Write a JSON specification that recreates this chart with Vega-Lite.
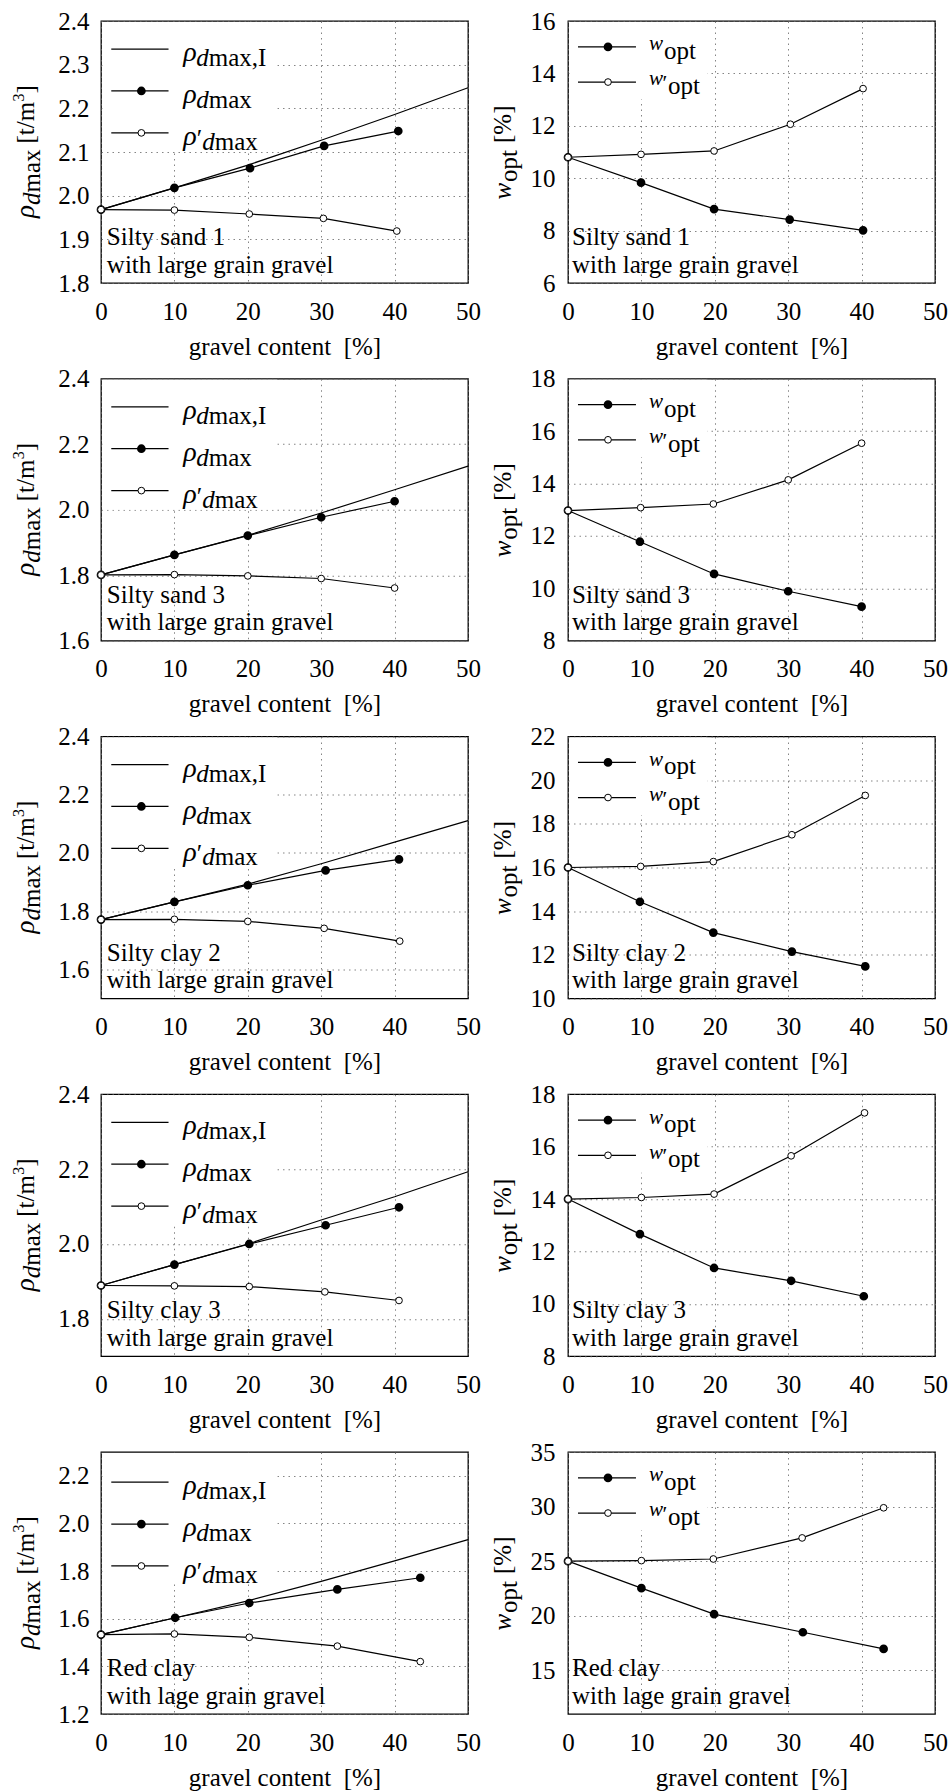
{
"$schema":"https://vega.github.io/schema/vega-lite/v6.json",
"background":"white",
"padding":{"left":10,"top":8,"right":2,"bottom":2},
"columns":2,
"bounds":"flush",
"spacing":{"row":95.75,"column":100},
"config":{
 "font":"Liberation Serif",
 "view":{"stroke":"black","strokeWidth":1.3},
 "axis":{"labelFont":"Liberation Serif","labelFontSize":25,"labelColor":"black","titleFont":"Liberation Serif","titleFontSize":25,"titleFontWeight":"normal","titleColor":"black","ticks":false,"domain":false,"grid":true,"gridColor":"#666","gridDash":[1.5,4],"gridWidth":1,"gridOpacity":0.8,"labelFlush":false,"labelOverlap":false},
 "text":{"font":"Liberation Serif","color":"black"},
 "point":{"opacity":1}
},
"datasets":{"d":[
{"p":"L1","s":"I","x":0,"y":1.968},{"p":"L1","s":"I","x":10,"y":2.018},{"p":"L1","s":"I","x":20,"y":2.07},{"p":"L1","s":"I","x":30,"y":2.127},{"p":"L1","s":"I","x":40,"y":2.186},{"p":"L1","s":"I","x":50,"y":2.247},
{"p":"L1","s":"m","x":0,"y":1.968},{"p":"L1","s":"m","x":10,"y":2.018},{"p":"L1","s":"m","x":20.3,"y":2.063},{"p":"L1","s":"m","x":30.4,"y":2.114},{"p":"L1","s":"m","x":40.5,"y":2.148},
{"p":"L1","s":"p","x":0,"y":1.968},{"p":"L1","s":"p","x":10,"y":1.967},{"p":"L1","s":"p","x":20.2,"y":1.958},{"p":"L1","s":"p","x":30.3,"y":1.948},{"p":"L1","s":"p","x":40.3,"y":1.919},
{"p":"R1","s":"m","x":0,"y":10.8},{"p":"R1","s":"m","x":9.95,"y":9.83},{"p":"R1","s":"m","x":19.9,"y":8.82},{"p":"R1","s":"m","x":30.2,"y":8.42},{"p":"R1","s":"m","x":40.2,"y":8.01},
{"p":"R1","s":"p","x":0,"y":10.8},{"p":"R1","s":"p","x":9.95,"y":10.91},{"p":"R1","s":"p","x":19.9,"y":11.04},{"p":"R1","s":"p","x":30.3,"y":12.06},{"p":"R1","s":"p","x":40.2,"y":13.42},
{"p":"L2","s":"I","x":0,"y":1.801},{"p":"L2","s":"I","x":10,"y":1.862},{"p":"L2","s":"I","x":20,"y":1.922},{"p":"L2","s":"I","x":30,"y":1.99},{"p":"L2","s":"I","x":40,"y":2.061},{"p":"L2","s":"I","x":50,"y":2.133},
{"p":"L2","s":"m","x":0,"y":1.801},{"p":"L2","s":"m","x":10,"y":1.862},{"p":"L2","s":"m","x":20,"y":1.921},{"p":"L2","s":"m","x":30,"y":1.977},{"p":"L2","s":"m","x":40,"y":2.026},
{"p":"L2","s":"p","x":0,"y":1.801},{"p":"L2","s":"p","x":10,"y":1.802},{"p":"L2","s":"p","x":20,"y":1.798},{"p":"L2","s":"p","x":30,"y":1.79},{"p":"L2","s":"p","x":40,"y":1.761},
{"p":"R2","s":"m","x":0,"y":12.97},{"p":"R2","s":"m","x":9.8,"y":11.78},{"p":"R2","s":"m","x":19.9,"y":10.55},{"p":"R2","s":"m","x":30,"y":9.89},{"p":"R2","s":"m","x":40,"y":9.3},
{"p":"R2","s":"p","x":0,"y":12.97},{"p":"R2","s":"p","x":9.9,"y":13.08},{"p":"R2","s":"p","x":19.8,"y":13.22},{"p":"R2","s":"p","x":30,"y":14.14},{"p":"R2","s":"p","x":40,"y":15.54},
{"p":"L3","s":"I","x":0,"y":1.771},{"p":"L3","s":"I","x":10,"y":1.832},{"p":"L3","s":"I","x":20,"y":1.893},{"p":"L3","s":"I","x":30,"y":1.963},{"p":"L3","s":"I","x":40,"y":2.037},{"p":"L3","s":"I","x":50,"y":2.111},
{"p":"L3","s":"m","x":0,"y":1.771},{"p":"L3","s":"m","x":10,"y":1.832},{"p":"L3","s":"m","x":20,"y":1.889},{"p":"L3","s":"m","x":30.6,"y":1.94},{"p":"L3","s":"m","x":40.6,"y":1.978},
{"p":"L3","s":"p","x":0,"y":1.771},{"p":"L3","s":"p","x":10,"y":1.772},{"p":"L3","s":"p","x":20,"y":1.765},{"p":"L3","s":"p","x":30.4,"y":1.741},{"p":"L3","s":"p","x":40.7,"y":1.697},
{"p":"R3","s":"m","x":0,"y":16.0},{"p":"R3","s":"m","x":9.8,"y":14.43},{"p":"R3","s":"m","x":19.8,"y":13.02},{"p":"R3","s":"m","x":30.5,"y":12.15},{"p":"R3","s":"m","x":40.5,"y":11.47},
{"p":"R3","s":"p","x":0,"y":16.0},{"p":"R3","s":"p","x":9.9,"y":16.05},{"p":"R3","s":"p","x":19.8,"y":16.27},{"p":"R3","s":"p","x":30.5,"y":17.5},{"p":"R3","s":"p","x":40.5,"y":19.3},
{"p":"L4","s":"I","x":0,"y":1.889},{"p":"L4","s":"I","x":10,"y":1.945},{"p":"L4","s":"I","x":20,"y":2.0},{"p":"L4","s":"I","x":30,"y":2.064},{"p":"L4","s":"I","x":40,"y":2.126},{"p":"L4","s":"I","x":50,"y":2.193},
{"p":"L4","s":"m","x":0,"y":1.889},{"p":"L4","s":"m","x":10,"y":1.945},{"p":"L4","s":"m","x":20.2,"y":2.0},{"p":"L4","s":"m","x":30.6,"y":2.05},{"p":"L4","s":"m","x":40.6,"y":2.098},
{"p":"L4","s":"p","x":0,"y":1.889},{"p":"L4","s":"p","x":10,"y":1.888},{"p":"L4","s":"p","x":20.2,"y":1.886},{"p":"L4","s":"p","x":30.5,"y":1.872},{"p":"L4","s":"p","x":40.6,"y":1.849},
{"p":"R4","s":"m","x":0,"y":14.0},{"p":"R4","s":"m","x":9.8,"y":12.66},{"p":"R4","s":"m","x":19.9,"y":11.37},{"p":"R4","s":"m","x":30.4,"y":10.88},{"p":"R4","s":"m","x":40.3,"y":10.29},
{"p":"R4","s":"p","x":0,"y":14.0},{"p":"R4","s":"p","x":10,"y":14.06},{"p":"R4","s":"p","x":19.9,"y":14.19},{"p":"R4","s":"p","x":30.4,"y":15.65},{"p":"R4","s":"p","x":40.4,"y":17.29},
{"p":"L5","s":"I","x":0,"y":1.533},{"p":"L5","s":"I","x":10,"y":1.603},{"p":"L5","s":"I","x":20,"y":1.675},{"p":"L5","s":"I","x":30,"y":1.757},{"p":"L5","s":"I","x":40,"y":1.843},{"p":"L5","s":"I","x":50,"y":1.932},
{"p":"L5","s":"m","x":0,"y":1.533},{"p":"L5","s":"m","x":10.1,"y":1.604},{"p":"L5","s":"m","x":20.2,"y":1.666},{"p":"L5","s":"m","x":32.2,"y":1.723},{"p":"L5","s":"m","x":43.5,"y":1.772},
{"p":"L5","s":"p","x":0,"y":1.533},{"p":"L5","s":"p","x":10,"y":1.536},{"p":"L5","s":"p","x":20.2,"y":1.522},{"p":"L5","s":"p","x":32.2,"y":1.485},{"p":"L5","s":"p","x":43.5,"y":1.42},
{"p":"R5","s":"m","x":0,"y":25.0},{"p":"R5","s":"m","x":10,"y":22.53},{"p":"R5","s":"m","x":19.9,"y":20.15},{"p":"R5","s":"m","x":32,"y":18.49},{"p":"R5","s":"m","x":43,"y":16.96},
{"p":"R5","s":"p","x":0,"y":25.0},{"p":"R5","s":"p","x":10,"y":25.05},{"p":"R5","s":"p","x":19.8,"y":25.2},{"p":"R5","s":"p","x":31.9,"y":27.13},{"p":"R5","s":"p","x":43,"y":29.89}
]},
"concat":[
{"width":367,"height":262,"resolve":{"scale":{"y":"independent"}},"layer":[
 {"data":{"values":[{}]},"mark":{"type":"rect","fill":"white"},"encoding":{"x":{"datum":0.2,"type":"quantitative","scale":{"domain":[0,50],"nice":false}},"x2":{"datum":24},"y":{"datum":0.5,"type":"quantitative","scale":{"domain":[0,1],"nice":false},"axis":null},"y2":{"datum":0.996}}},
 {"data":{"name":"d"},"transform":[{"filter":"datum.p=='L1'"}],"mark":{"type":"line","color":"black","strokeWidth":1.2},"encoding":{"x":{"field":"x","type":"quantitative","scale":{"domain":[0,50],"nice":false},"axis":{"values":[0,10,20,30,40,50],"title":"gravel content\u00a0\u00a0[%]","labelPadding":16,"titlePadding":10,"grid":true}},"y":{"field":"y","type":"quantitative","scale":{"domain":[1.8,2.4],"nice":false,"zero":false},"axis":{"values":[1.8,1.9,2.0,2.1,2.2,2.3,2.4],"format":".1f","title":null,"labelPadding":12,"grid":true}},"detail":{"field":"s"}}},
 {"data":{"name":"d"},"transform":[{"filter":"datum.p=='L1' && datum.s=='m'"}],"mark":{"type":"point","shape":"circle","filled":true,"fill":"black","stroke":"black","size":45,"opacity":1},"encoding":{"x":{"field":"x","type":"quantitative","scale":{"domain":[0,50],"nice":false}},"y":{"field":"y","type":"quantitative","scale":{"domain":[1.8,2.4],"nice":false,"zero":false},"axis":null}}},
 {"data":{"name":"d"},"transform":[{"filter":"datum.p=='L1' && datum.s=='p'"}],"mark":{"type":"point","shape":"circle","filled":true,"fill":"white","stroke":"black","strokeWidth":1,"size":45,"opacity":1},"encoding":{"x":{"field":"x","type":"quantitative","scale":{"domain":[0,50],"nice":false}},"y":{"field":"y","type":"quantitative","scale":{"domain":[1.8,2.4],"nice":false,"zero":false},"axis":null}}},
 {"data":{"values":[{}]},"mark":{"type":"rule","color":"black","strokeWidth":1.2},"encoding":{"x":{"datum":1.4,"type":"quantitative","scale":{"domain":[0,50],"nice":false}},"x2":{"datum":9.2},"y":{"datum":0.893,"type":"quantitative","scale":{"domain":[0,1],"nice":false},"axis":null}}},
 {"data":{"values":[{}]},"mark":{"type":"rule","color":"black","strokeWidth":1.2},"encoding":{"x":{"datum":1.4,"type":"quantitative","scale":{"domain":[0,50],"nice":false}},"x2":{"datum":9.2},"y":{"datum":0.733,"type":"quantitative","scale":{"domain":[0,1],"nice":false},"axis":null}}},
 {"data":{"values":[{}]},"mark":{"type":"rule","color":"black","strokeWidth":1.2},"encoding":{"x":{"datum":1.4,"type":"quantitative","scale":{"domain":[0,50],"nice":false}},"x2":{"datum":9.2},"y":{"datum":0.573,"type":"quantitative","scale":{"domain":[0,1],"nice":false},"axis":null}}},
 {"data":{"values":[{}]},"mark":{"type":"point","shape":"circle","filled":true,"fill":"black","stroke":"black","size":45,"opacity":1},"encoding":{"x":{"datum":5.5,"type":"quantitative","scale":{"domain":[0,50],"nice":false}},"y":{"datum":0.733,"type":"quantitative","scale":{"domain":[0,1],"nice":false},"axis":null}}},
 {"data":{"values":[{}]},"mark":{"type":"point","shape":"circle","filled":true,"fill":"white","stroke":"black","strokeWidth":1,"size":45,"opacity":1},"encoding":{"x":{"datum":5.5,"type":"quantitative","scale":{"domain":[0,50],"nice":false}},"y":{"datum":0.573,"type":"quantitative","scale":{"domain":[0,1],"nice":false},"axis":null}}},
 {"data":{"values":[{}]},"mark":{"type":"text","text":["ρ","ρ","ρ"],"fontStyle":"italic","fontSize":28,"lineHeight":42,"align":"left","baseline":"alphabetic","dy":12},"encoding":{"x":{"datum":11.2,"type":"quantitative","scale":{"domain":[0,50],"nice":false}},"y":{"datum":0.893,"type":"quantitative","scale":{"domain":[0,1],"nice":false},"axis":null}}},
 {"data":{"values":[{}]},"mark":{"type":"text","text":["d","d"],"fontStyle":"italic","fontSize":25,"lineHeight":42,"align":"left","baseline":"alphabetic","dx":13,"dy":17},"encoding":{"x":{"datum":11.2,"type":"quantitative","scale":{"domain":[0,50],"nice":false}},"y":{"datum":0.893,"type":"quantitative","scale":{"domain":[0,1],"nice":false},"axis":null}}},
 {"data":{"values":[{}]},"mark":{"type":"text","text":["max,I","max"],"fontSize":25,"lineHeight":42,"align":"left","baseline":"alphabetic","dx":25.5,"dy":17},"encoding":{"x":{"datum":11.2,"type":"quantitative","scale":{"domain":[0,50],"nice":false}},"y":{"datum":0.893,"type":"quantitative","scale":{"domain":[0,1],"nice":false},"axis":null}}},
 {"data":{"values":[{}]},"mark":{"type":"text","text":"′","fontSize":25,"align":"left","baseline":"alphabetic","dx":13.5,"dy":14},"encoding":{"x":{"datum":11.2,"type":"quantitative","scale":{"domain":[0,50],"nice":false}},"y":{"datum":0.573,"type":"quantitative","scale":{"domain":[0,1],"nice":false},"axis":null}}},
 {"data":{"values":[{}]},"mark":{"type":"text","text":"d","fontStyle":"italic","fontSize":25,"align":"left","baseline":"alphabetic","dx":19,"dy":17},"encoding":{"x":{"datum":11.2,"type":"quantitative","scale":{"domain":[0,50],"nice":false}},"y":{"datum":0.573,"type":"quantitative","scale":{"domain":[0,1],"nice":false},"axis":null}}},
 {"data":{"values":[{}]},"mark":{"type":"text","text":"max","fontSize":25,"align":"left","baseline":"alphabetic","dx":31.5,"dy":17},"encoding":{"x":{"datum":11.2,"type":"quantitative","scale":{"domain":[0,50],"nice":false}},"y":{"datum":0.573,"type":"quantitative","scale":{"domain":[0,1],"nice":false},"axis":null}}},
 {"data":{"values":[{}]},"mark":{"type":"text","text":"ρ","angle":270,"fontStyle":"italic","fontSize":27,"align":"left","baseline":"alphabetic","dx":-66,"dy":0},"encoding":{"x":{"datum":-9.13,"type":"quantitative","scale":{"domain":[0,50],"nice":false}},"y":{"datum":0.5,"type":"quantitative","scale":{"domain":[0,1],"nice":false},"axis":null}}},
 {"data":{"values":[{}]},"mark":{"type":"text","text":"d","angle":270,"fontStyle":"italic","fontSize":25,"align":"left","baseline":"alphabetic","dx":-53,"dy":6},"encoding":{"x":{"datum":-9.13,"type":"quantitative","scale":{"domain":[0,50],"nice":false}},"y":{"datum":0.5,"type":"quantitative","scale":{"domain":[0,1],"nice":false},"axis":null}}},
 {"data":{"values":[{}]},"mark":{"type":"text","text":"max","angle":270,"fontSize":25,"align":"left","baseline":"alphabetic","dx":-40.5,"dy":6},"encoding":{"x":{"datum":-9.13,"type":"quantitative","scale":{"domain":[0,50],"nice":false}},"y":{"datum":0.5,"type":"quantitative","scale":{"domain":[0,1],"nice":false},"axis":null}}},
 {"data":{"values":[{}]},"mark":{"type":"text","text":"[t/m","angle":270,"fontSize":25,"align":"left","baseline":"alphabetic","dx":8.5,"dy":0},"encoding":{"x":{"datum":-9.13,"type":"quantitative","scale":{"domain":[0,50],"nice":false}},"y":{"datum":0.5,"type":"quantitative","scale":{"domain":[0,1],"nice":false},"axis":null}}},
 {"data":{"values":[{}]},"mark":{"type":"text","text":"3","angle":270,"fontSize":16,"align":"left","baseline":"alphabetic","dx":50.5,"dy":-10},"encoding":{"x":{"datum":-9.13,"type":"quantitative","scale":{"domain":[0,50],"nice":false}},"y":{"datum":0.5,"type":"quantitative","scale":{"domain":[0,1],"nice":false},"axis":null}}},
 {"data":{"values":[{}]},"mark":{"type":"text","text":"]","angle":270,"fontSize":25,"align":"left","baseline":"alphabetic","dx":58.5,"dy":0},"encoding":{"x":{"datum":-9.13,"type":"quantitative","scale":{"domain":[0,50],"nice":false}},"y":{"datum":0.5,"type":"quantitative","scale":{"domain":[0,1],"nice":false},"axis":null}}},
 {"data":{"values":[{}]},"mark":{"type":"text","text":["Silty sand 1","with large grain gravel"],"fontSize":25,"lineHeight":27.7,"align":"left","baseline":"alphabetic"},"encoding":{"x":{"datum":0.8,"type":"quantitative","scale":{"domain":[0,50],"nice":false}},"y":{"datum":0.145,"type":"quantitative","scale":{"domain":[0,1],"nice":false},"axis":null}}}
]},
{"width":367,"height":262,"resolve":{"scale":{"y":"independent"}},"layer":[
 {"data":{"values":[{}]},"mark":{"type":"rect","fill":"white"},"encoding":{"x":{"datum":0.2,"type":"quantitative","scale":{"domain":[0,50],"nice":false}},"x2":{"datum":19},"y":{"datum":0.7,"type":"quantitative","scale":{"domain":[0,1],"nice":false},"axis":null},"y2":{"datum":0.996}}},
 {"data":{"name":"d"},"transform":[{"filter":"datum.p=='R1'"}],"mark":{"type":"line","color":"black","strokeWidth":1.2},"encoding":{"x":{"field":"x","type":"quantitative","scale":{"domain":[0,50],"nice":false},"axis":{"values":[0,10,20,30,40,50],"title":"gravel content\u00a0\u00a0[%]","labelPadding":16,"titlePadding":10,"grid":true}},"y":{"field":"y","type":"quantitative","scale":{"domain":[6,16],"nice":false,"zero":false},"axis":{"values":[6,8,10,12,14,16],"format":"d","title":null,"labelPadding":13,"grid":true}},"detail":{"field":"s"}}},
 {"data":{"name":"d"},"transform":[{"filter":"datum.p=='R1' && datum.s=='m'"}],"mark":{"type":"point","shape":"circle","filled":true,"fill":"black","stroke":"black","size":45,"opacity":1},"encoding":{"x":{"field":"x","type":"quantitative","scale":{"domain":[0,50],"nice":false}},"y":{"field":"y","type":"quantitative","scale":{"domain":[6,16],"nice":false,"zero":false},"axis":null}}},
 {"data":{"name":"d"},"transform":[{"filter":"datum.p=='R1' && datum.s=='p'"}],"mark":{"type":"point","shape":"circle","filled":true,"fill":"white","stroke":"black","strokeWidth":1,"size":45,"opacity":1},"encoding":{"x":{"field":"x","type":"quantitative","scale":{"domain":[0,50],"nice":false}},"y":{"field":"y","type":"quantitative","scale":{"domain":[6,16],"nice":false,"zero":false},"axis":null}}},
 {"data":{"values":[{}]},"mark":{"type":"rule","color":"black","strokeWidth":1.2},"encoding":{"x":{"datum":1.36,"type":"quantitative","scale":{"domain":[0,50],"nice":false}},"x2":{"datum":9.26},"y":{"datum":0.901,"type":"quantitative","scale":{"domain":[0,1],"nice":false},"axis":null}}},
 {"data":{"values":[{}]},"mark":{"type":"rule","color":"black","strokeWidth":1.2},"encoding":{"x":{"datum":1.36,"type":"quantitative","scale":{"domain":[0,50],"nice":false}},"x2":{"datum":9.26},"y":{"datum":0.767,"type":"quantitative","scale":{"domain":[0,1],"nice":false},"axis":null}}},
 {"data":{"values":[{}]},"mark":{"type":"point","shape":"circle","filled":true,"fill":"black","stroke":"black","size":45,"opacity":1},"encoding":{"x":{"datum":5.45,"type":"quantitative","scale":{"domain":[0,50],"nice":false}},"y":{"datum":0.901,"type":"quantitative","scale":{"domain":[0,1],"nice":false},"axis":null}}},
 {"data":{"values":[{}]},"mark":{"type":"point","shape":"circle","filled":true,"fill":"white","stroke":"black","strokeWidth":1,"size":45,"opacity":1},"encoding":{"x":{"datum":5.45,"type":"quantitative","scale":{"domain":[0,50],"nice":false}},"y":{"datum":0.767,"type":"quantitative","scale":{"domain":[0,1],"nice":false},"axis":null}}},
 {"data":{"values":[{}]},"mark":{"type":"text","text":["w","w"],"fontStyle":"italic","fontSize":21,"lineHeight":35,"align":"left","baseline":"alphabetic","dy":3.5},"encoding":{"x":{"datum":11.04,"type":"quantitative","scale":{"domain":[0,50],"nice":false}},"y":{"datum":0.901,"type":"quantitative","scale":{"domain":[0,1],"nice":false},"axis":null}}},
 {"data":{"values":[{}]},"mark":{"type":"text","text":"opt","fontSize":25,"align":"left","baseline":"alphabetic","dx":15,"dy":12},"encoding":{"x":{"datum":11.04,"type":"quantitative","scale":{"domain":[0,50],"nice":false}},"y":{"datum":0.901,"type":"quantitative","scale":{"domain":[0,1],"nice":false},"axis":null}}},
 {"data":{"values":[{}]},"mark":{"type":"text","text":"′","fontSize":22,"align":"left","baseline":"alphabetic","dx":13.5,"dy":8},"encoding":{"x":{"datum":11.04,"type":"quantitative","scale":{"domain":[0,50],"nice":false}},"y":{"datum":0.767,"type":"quantitative","scale":{"domain":[0,1],"nice":false},"axis":null}}},
 {"data":{"values":[{}]},"mark":{"type":"text","text":"opt","fontSize":25,"align":"left","baseline":"alphabetic","dx":19,"dy":12},"encoding":{"x":{"datum":11.04,"type":"quantitative","scale":{"domain":[0,50],"nice":false}},"y":{"datum":0.767,"type":"quantitative","scale":{"domain":[0,1],"nice":false},"axis":null}}},
 {"data":{"values":[{}]},"mark":{"type":"text","text":"w","angle":270,"fontStyle":"italic","fontSize":25,"align":"left","baseline":"alphabetic","dx":-47.5,"dy":0},"encoding":{"x":{"datum":-7.7,"type":"quantitative","scale":{"domain":[0,50],"nice":false}},"y":{"datum":0.5,"type":"quantitative","scale":{"domain":[0,1],"nice":false},"axis":null}}},
 {"data":{"values":[{}]},"mark":{"type":"text","text":"opt","angle":270,"fontSize":25,"align":"left","baseline":"alphabetic","dx":-30,"dy":6},"encoding":{"x":{"datum":-7.7,"type":"quantitative","scale":{"domain":[0,50],"nice":false}},"y":{"datum":0.5,"type":"quantitative","scale":{"domain":[0,1],"nice":false},"axis":null}}},
 {"data":{"values":[{}]},"mark":{"type":"text","text":"[%]","angle":270,"fontSize":25,"align":"left","baseline":"alphabetic","dx":9,"dy":0},"encoding":{"x":{"datum":-7.7,"type":"quantitative","scale":{"domain":[0,50],"nice":false}},"y":{"datum":0.5,"type":"quantitative","scale":{"domain":[0,1],"nice":false},"axis":null}}},
 {"data":{"values":[{}]},"mark":{"type":"text","text":["Silty sand 1","with large grain gravel"],"fontSize":25,"lineHeight":27.7,"align":"left","baseline":"alphabetic"},"encoding":{"x":{"datum":0.55,"type":"quantitative","scale":{"domain":[0,50],"nice":false}},"y":{"datum":0.145,"type":"quantitative","scale":{"domain":[0,1],"nice":false},"axis":null}}}
]},
{"width":367,"height":262,"resolve":{"scale":{"y":"independent"}},"layer":[
 {"data":{"values":[{}]},"mark":{"type":"rect","fill":"white"},"encoding":{"x":{"datum":0.2,"type":"quantitative","scale":{"domain":[0,50],"nice":false}},"x2":{"datum":24},"y":{"datum":0.5,"type":"quantitative","scale":{"domain":[0,1],"nice":false},"axis":null},"y2":{"datum":0.996}}},
 {"data":{"name":"d"},"transform":[{"filter":"datum.p=='L2'"}],"mark":{"type":"line","color":"black","strokeWidth":1.2},"encoding":{"x":{"field":"x","type":"quantitative","scale":{"domain":[0,50],"nice":false},"axis":{"values":[0,10,20,30,40,50],"title":"gravel content\u00a0\u00a0[%]","labelPadding":16,"titlePadding":10,"grid":true}},"y":{"field":"y","type":"quantitative","scale":{"domain":[1.6,2.4],"nice":false,"zero":false},"axis":{"values":[1.6,1.8,2.0,2.2,2.4],"format":".1f","title":null,"labelPadding":12,"grid":true}},"detail":{"field":"s"}}},
 {"data":{"name":"d"},"transform":[{"filter":"datum.p=='L2' && datum.s=='m'"}],"mark":{"type":"point","shape":"circle","filled":true,"fill":"black","stroke":"black","size":45,"opacity":1},"encoding":{"x":{"field":"x","type":"quantitative","scale":{"domain":[0,50],"nice":false}},"y":{"field":"y","type":"quantitative","scale":{"domain":[1.6,2.4],"nice":false,"zero":false},"axis":null}}},
 {"data":{"name":"d"},"transform":[{"filter":"datum.p=='L2' && datum.s=='p'"}],"mark":{"type":"point","shape":"circle","filled":true,"fill":"white","stroke":"black","strokeWidth":1,"size":45,"opacity":1},"encoding":{"x":{"field":"x","type":"quantitative","scale":{"domain":[0,50],"nice":false}},"y":{"field":"y","type":"quantitative","scale":{"domain":[1.6,2.4],"nice":false,"zero":false},"axis":null}}},
 {"data":{"values":[{}]},"mark":{"type":"rule","color":"black","strokeWidth":1.2},"encoding":{"x":{"datum":1.4,"type":"quantitative","scale":{"domain":[0,50],"nice":false}},"x2":{"datum":9.2},"y":{"datum":0.893,"type":"quantitative","scale":{"domain":[0,1],"nice":false},"axis":null}}},
 {"data":{"values":[{}]},"mark":{"type":"rule","color":"black","strokeWidth":1.2},"encoding":{"x":{"datum":1.4,"type":"quantitative","scale":{"domain":[0,50],"nice":false}},"x2":{"datum":9.2},"y":{"datum":0.733,"type":"quantitative","scale":{"domain":[0,1],"nice":false},"axis":null}}},
 {"data":{"values":[{}]},"mark":{"type":"rule","color":"black","strokeWidth":1.2},"encoding":{"x":{"datum":1.4,"type":"quantitative","scale":{"domain":[0,50],"nice":false}},"x2":{"datum":9.2},"y":{"datum":0.573,"type":"quantitative","scale":{"domain":[0,1],"nice":false},"axis":null}}},
 {"data":{"values":[{}]},"mark":{"type":"point","shape":"circle","filled":true,"fill":"black","stroke":"black","size":45,"opacity":1},"encoding":{"x":{"datum":5.5,"type":"quantitative","scale":{"domain":[0,50],"nice":false}},"y":{"datum":0.733,"type":"quantitative","scale":{"domain":[0,1],"nice":false},"axis":null}}},
 {"data":{"values":[{}]},"mark":{"type":"point","shape":"circle","filled":true,"fill":"white","stroke":"black","strokeWidth":1,"size":45,"opacity":1},"encoding":{"x":{"datum":5.5,"type":"quantitative","scale":{"domain":[0,50],"nice":false}},"y":{"datum":0.573,"type":"quantitative","scale":{"domain":[0,1],"nice":false},"axis":null}}},
 {"data":{"values":[{}]},"mark":{"type":"text","text":["ρ","ρ","ρ"],"fontStyle":"italic","fontSize":28,"lineHeight":42,"align":"left","baseline":"alphabetic","dy":12},"encoding":{"x":{"datum":11.2,"type":"quantitative","scale":{"domain":[0,50],"nice":false}},"y":{"datum":0.893,"type":"quantitative","scale":{"domain":[0,1],"nice":false},"axis":null}}},
 {"data":{"values":[{}]},"mark":{"type":"text","text":["d","d"],"fontStyle":"italic","fontSize":25,"lineHeight":42,"align":"left","baseline":"alphabetic","dx":13,"dy":17},"encoding":{"x":{"datum":11.2,"type":"quantitative","scale":{"domain":[0,50],"nice":false}},"y":{"datum":0.893,"type":"quantitative","scale":{"domain":[0,1],"nice":false},"axis":null}}},
 {"data":{"values":[{}]},"mark":{"type":"text","text":["max,I","max"],"fontSize":25,"lineHeight":42,"align":"left","baseline":"alphabetic","dx":25.5,"dy":17},"encoding":{"x":{"datum":11.2,"type":"quantitative","scale":{"domain":[0,50],"nice":false}},"y":{"datum":0.893,"type":"quantitative","scale":{"domain":[0,1],"nice":false},"axis":null}}},
 {"data":{"values":[{}]},"mark":{"type":"text","text":"′","fontSize":25,"align":"left","baseline":"alphabetic","dx":13.5,"dy":14},"encoding":{"x":{"datum":11.2,"type":"quantitative","scale":{"domain":[0,50],"nice":false}},"y":{"datum":0.573,"type":"quantitative","scale":{"domain":[0,1],"nice":false},"axis":null}}},
 {"data":{"values":[{}]},"mark":{"type":"text","text":"d","fontStyle":"italic","fontSize":25,"align":"left","baseline":"alphabetic","dx":19,"dy":17},"encoding":{"x":{"datum":11.2,"type":"quantitative","scale":{"domain":[0,50],"nice":false}},"y":{"datum":0.573,"type":"quantitative","scale":{"domain":[0,1],"nice":false},"axis":null}}},
 {"data":{"values":[{}]},"mark":{"type":"text","text":"max","fontSize":25,"align":"left","baseline":"alphabetic","dx":31.5,"dy":17},"encoding":{"x":{"datum":11.2,"type":"quantitative","scale":{"domain":[0,50],"nice":false}},"y":{"datum":0.573,"type":"quantitative","scale":{"domain":[0,1],"nice":false},"axis":null}}},
 {"data":{"values":[{}]},"mark":{"type":"text","text":"ρ","angle":270,"fontStyle":"italic","fontSize":27,"align":"left","baseline":"alphabetic","dx":-66,"dy":0},"encoding":{"x":{"datum":-9.13,"type":"quantitative","scale":{"domain":[0,50],"nice":false}},"y":{"datum":0.5,"type":"quantitative","scale":{"domain":[0,1],"nice":false},"axis":null}}},
 {"data":{"values":[{}]},"mark":{"type":"text","text":"d","angle":270,"fontStyle":"italic","fontSize":25,"align":"left","baseline":"alphabetic","dx":-53,"dy":6},"encoding":{"x":{"datum":-9.13,"type":"quantitative","scale":{"domain":[0,50],"nice":false}},"y":{"datum":0.5,"type":"quantitative","scale":{"domain":[0,1],"nice":false},"axis":null}}},
 {"data":{"values":[{}]},"mark":{"type":"text","text":"max","angle":270,"fontSize":25,"align":"left","baseline":"alphabetic","dx":-40.5,"dy":6},"encoding":{"x":{"datum":-9.13,"type":"quantitative","scale":{"domain":[0,50],"nice":false}},"y":{"datum":0.5,"type":"quantitative","scale":{"domain":[0,1],"nice":false},"axis":null}}},
 {"data":{"values":[{}]},"mark":{"type":"text","text":"[t/m","angle":270,"fontSize":25,"align":"left","baseline":"alphabetic","dx":8.5,"dy":0},"encoding":{"x":{"datum":-9.13,"type":"quantitative","scale":{"domain":[0,50],"nice":false}},"y":{"datum":0.5,"type":"quantitative","scale":{"domain":[0,1],"nice":false},"axis":null}}},
 {"data":{"values":[{}]},"mark":{"type":"text","text":"3","angle":270,"fontSize":16,"align":"left","baseline":"alphabetic","dx":50.5,"dy":-10},"encoding":{"x":{"datum":-9.13,"type":"quantitative","scale":{"domain":[0,50],"nice":false}},"y":{"datum":0.5,"type":"quantitative","scale":{"domain":[0,1],"nice":false},"axis":null}}},
 {"data":{"values":[{}]},"mark":{"type":"text","text":"]","angle":270,"fontSize":25,"align":"left","baseline":"alphabetic","dx":58.5,"dy":0},"encoding":{"x":{"datum":-9.13,"type":"quantitative","scale":{"domain":[0,50],"nice":false}},"y":{"datum":0.5,"type":"quantitative","scale":{"domain":[0,1],"nice":false},"axis":null}}},
 {"data":{"values":[{}]},"mark":{"type":"text","text":["Silty sand 3","with large grain gravel"],"fontSize":25,"lineHeight":27.7,"align":"left","baseline":"alphabetic"},"encoding":{"x":{"datum":0.8,"type":"quantitative","scale":{"domain":[0,50],"nice":false}},"y":{"datum":0.145,"type":"quantitative","scale":{"domain":[0,1],"nice":false},"axis":null}}}
]},
{"width":367,"height":262,"resolve":{"scale":{"y":"independent"}},"layer":[
 {"data":{"values":[{}]},"mark":{"type":"rect","fill":"white"},"encoding":{"x":{"datum":0.2,"type":"quantitative","scale":{"domain":[0,50],"nice":false}},"x2":{"datum":19},"y":{"datum":0.7,"type":"quantitative","scale":{"domain":[0,1],"nice":false},"axis":null},"y2":{"datum":0.996}}},
 {"data":{"name":"d"},"transform":[{"filter":"datum.p=='R2'"}],"mark":{"type":"line","color":"black","strokeWidth":1.2},"encoding":{"x":{"field":"x","type":"quantitative","scale":{"domain":[0,50],"nice":false},"axis":{"values":[0,10,20,30,40,50],"title":"gravel content\u00a0\u00a0[%]","labelPadding":16,"titlePadding":10,"grid":true}},"y":{"field":"y","type":"quantitative","scale":{"domain":[8,18],"nice":false,"zero":false},"axis":{"values":[8,10,12,14,16,18],"format":"d","title":null,"labelPadding":13,"grid":true}},"detail":{"field":"s"}}},
 {"data":{"name":"d"},"transform":[{"filter":"datum.p=='R2' && datum.s=='m'"}],"mark":{"type":"point","shape":"circle","filled":true,"fill":"black","stroke":"black","size":45,"opacity":1},"encoding":{"x":{"field":"x","type":"quantitative","scale":{"domain":[0,50],"nice":false}},"y":{"field":"y","type":"quantitative","scale":{"domain":[8,18],"nice":false,"zero":false},"axis":null}}},
 {"data":{"name":"d"},"transform":[{"filter":"datum.p=='R2' && datum.s=='p'"}],"mark":{"type":"point","shape":"circle","filled":true,"fill":"white","stroke":"black","strokeWidth":1,"size":45,"opacity":1},"encoding":{"x":{"field":"x","type":"quantitative","scale":{"domain":[0,50],"nice":false}},"y":{"field":"y","type":"quantitative","scale":{"domain":[8,18],"nice":false,"zero":false},"axis":null}}},
 {"data":{"values":[{}]},"mark":{"type":"rule","color":"black","strokeWidth":1.2},"encoding":{"x":{"datum":1.36,"type":"quantitative","scale":{"domain":[0,50],"nice":false}},"x2":{"datum":9.26},"y":{"datum":0.901,"type":"quantitative","scale":{"domain":[0,1],"nice":false},"axis":null}}},
 {"data":{"values":[{}]},"mark":{"type":"rule","color":"black","strokeWidth":1.2},"encoding":{"x":{"datum":1.36,"type":"quantitative","scale":{"domain":[0,50],"nice":false}},"x2":{"datum":9.26},"y":{"datum":0.767,"type":"quantitative","scale":{"domain":[0,1],"nice":false},"axis":null}}},
 {"data":{"values":[{}]},"mark":{"type":"point","shape":"circle","filled":true,"fill":"black","stroke":"black","size":45,"opacity":1},"encoding":{"x":{"datum":5.45,"type":"quantitative","scale":{"domain":[0,50],"nice":false}},"y":{"datum":0.901,"type":"quantitative","scale":{"domain":[0,1],"nice":false},"axis":null}}},
 {"data":{"values":[{}]},"mark":{"type":"point","shape":"circle","filled":true,"fill":"white","stroke":"black","strokeWidth":1,"size":45,"opacity":1},"encoding":{"x":{"datum":5.45,"type":"quantitative","scale":{"domain":[0,50],"nice":false}},"y":{"datum":0.767,"type":"quantitative","scale":{"domain":[0,1],"nice":false},"axis":null}}},
 {"data":{"values":[{}]},"mark":{"type":"text","text":["w","w"],"fontStyle":"italic","fontSize":21,"lineHeight":35,"align":"left","baseline":"alphabetic","dy":3.5},"encoding":{"x":{"datum":11.04,"type":"quantitative","scale":{"domain":[0,50],"nice":false}},"y":{"datum":0.901,"type":"quantitative","scale":{"domain":[0,1],"nice":false},"axis":null}}},
 {"data":{"values":[{}]},"mark":{"type":"text","text":"opt","fontSize":25,"align":"left","baseline":"alphabetic","dx":15,"dy":12},"encoding":{"x":{"datum":11.04,"type":"quantitative","scale":{"domain":[0,50],"nice":false}},"y":{"datum":0.901,"type":"quantitative","scale":{"domain":[0,1],"nice":false},"axis":null}}},
 {"data":{"values":[{}]},"mark":{"type":"text","text":"′","fontSize":22,"align":"left","baseline":"alphabetic","dx":13.5,"dy":8},"encoding":{"x":{"datum":11.04,"type":"quantitative","scale":{"domain":[0,50],"nice":false}},"y":{"datum":0.767,"type":"quantitative","scale":{"domain":[0,1],"nice":false},"axis":null}}},
 {"data":{"values":[{}]},"mark":{"type":"text","text":"opt","fontSize":25,"align":"left","baseline":"alphabetic","dx":19,"dy":12},"encoding":{"x":{"datum":11.04,"type":"quantitative","scale":{"domain":[0,50],"nice":false}},"y":{"datum":0.767,"type":"quantitative","scale":{"domain":[0,1],"nice":false},"axis":null}}},
 {"data":{"values":[{}]},"mark":{"type":"text","text":"w","angle":270,"fontStyle":"italic","fontSize":25,"align":"left","baseline":"alphabetic","dx":-47.5,"dy":0},"encoding":{"x":{"datum":-7.7,"type":"quantitative","scale":{"domain":[0,50],"nice":false}},"y":{"datum":0.5,"type":"quantitative","scale":{"domain":[0,1],"nice":false},"axis":null}}},
 {"data":{"values":[{}]},"mark":{"type":"text","text":"opt","angle":270,"fontSize":25,"align":"left","baseline":"alphabetic","dx":-30,"dy":6},"encoding":{"x":{"datum":-7.7,"type":"quantitative","scale":{"domain":[0,50],"nice":false}},"y":{"datum":0.5,"type":"quantitative","scale":{"domain":[0,1],"nice":false},"axis":null}}},
 {"data":{"values":[{}]},"mark":{"type":"text","text":"[%]","angle":270,"fontSize":25,"align":"left","baseline":"alphabetic","dx":9,"dy":0},"encoding":{"x":{"datum":-7.7,"type":"quantitative","scale":{"domain":[0,50],"nice":false}},"y":{"datum":0.5,"type":"quantitative","scale":{"domain":[0,1],"nice":false},"axis":null}}},
 {"data":{"values":[{}]},"mark":{"type":"text","text":["Silty sand 3","with large grain gravel"],"fontSize":25,"lineHeight":27.7,"align":"left","baseline":"alphabetic"},"encoding":{"x":{"datum":0.55,"type":"quantitative","scale":{"domain":[0,50],"nice":false}},"y":{"datum":0.145,"type":"quantitative","scale":{"domain":[0,1],"nice":false},"axis":null}}}
]},
{"width":367,"height":262,"resolve":{"scale":{"y":"independent"}},"layer":[
 {"data":{"values":[{}]},"mark":{"type":"rect","fill":"white"},"encoding":{"x":{"datum":0.2,"type":"quantitative","scale":{"domain":[0,50],"nice":false}},"x2":{"datum":24},"y":{"datum":0.5,"type":"quantitative","scale":{"domain":[0,1],"nice":false},"axis":null},"y2":{"datum":0.996}}},
 {"data":{"name":"d"},"transform":[{"filter":"datum.p=='L3'"}],"mark":{"type":"line","color":"black","strokeWidth":1.2},"encoding":{"x":{"field":"x","type":"quantitative","scale":{"domain":[0,50],"nice":false},"axis":{"values":[0,10,20,30,40,50],"title":"gravel content\u00a0\u00a0[%]","labelPadding":16,"titlePadding":10,"grid":true}},"y":{"field":"y","type":"quantitative","scale":{"domain":[1.5,2.4],"nice":false,"zero":false},"axis":{"values":[1.6,1.8,2.0,2.2,2.4],"format":".1f","title":null,"labelPadding":12,"grid":true}},"detail":{"field":"s"}}},
 {"data":{"name":"d"},"transform":[{"filter":"datum.p=='L3' && datum.s=='m'"}],"mark":{"type":"point","shape":"circle","filled":true,"fill":"black","stroke":"black","size":45,"opacity":1},"encoding":{"x":{"field":"x","type":"quantitative","scale":{"domain":[0,50],"nice":false}},"y":{"field":"y","type":"quantitative","scale":{"domain":[1.5,2.4],"nice":false,"zero":false},"axis":null}}},
 {"data":{"name":"d"},"transform":[{"filter":"datum.p=='L3' && datum.s=='p'"}],"mark":{"type":"point","shape":"circle","filled":true,"fill":"white","stroke":"black","strokeWidth":1,"size":45,"opacity":1},"encoding":{"x":{"field":"x","type":"quantitative","scale":{"domain":[0,50],"nice":false}},"y":{"field":"y","type":"quantitative","scale":{"domain":[1.5,2.4],"nice":false,"zero":false},"axis":null}}},
 {"data":{"values":[{}]},"mark":{"type":"rule","color":"black","strokeWidth":1.2},"encoding":{"x":{"datum":1.4,"type":"quantitative","scale":{"domain":[0,50],"nice":false}},"x2":{"datum":9.2},"y":{"datum":0.893,"type":"quantitative","scale":{"domain":[0,1],"nice":false},"axis":null}}},
 {"data":{"values":[{}]},"mark":{"type":"rule","color":"black","strokeWidth":1.2},"encoding":{"x":{"datum":1.4,"type":"quantitative","scale":{"domain":[0,50],"nice":false}},"x2":{"datum":9.2},"y":{"datum":0.733,"type":"quantitative","scale":{"domain":[0,1],"nice":false},"axis":null}}},
 {"data":{"values":[{}]},"mark":{"type":"rule","color":"black","strokeWidth":1.2},"encoding":{"x":{"datum":1.4,"type":"quantitative","scale":{"domain":[0,50],"nice":false}},"x2":{"datum":9.2},"y":{"datum":0.573,"type":"quantitative","scale":{"domain":[0,1],"nice":false},"axis":null}}},
 {"data":{"values":[{}]},"mark":{"type":"point","shape":"circle","filled":true,"fill":"black","stroke":"black","size":45,"opacity":1},"encoding":{"x":{"datum":5.5,"type":"quantitative","scale":{"domain":[0,50],"nice":false}},"y":{"datum":0.733,"type":"quantitative","scale":{"domain":[0,1],"nice":false},"axis":null}}},
 {"data":{"values":[{}]},"mark":{"type":"point","shape":"circle","filled":true,"fill":"white","stroke":"black","strokeWidth":1,"size":45,"opacity":1},"encoding":{"x":{"datum":5.5,"type":"quantitative","scale":{"domain":[0,50],"nice":false}},"y":{"datum":0.573,"type":"quantitative","scale":{"domain":[0,1],"nice":false},"axis":null}}},
 {"data":{"values":[{}]},"mark":{"type":"text","text":["ρ","ρ","ρ"],"fontStyle":"italic","fontSize":28,"lineHeight":42,"align":"left","baseline":"alphabetic","dy":12},"encoding":{"x":{"datum":11.2,"type":"quantitative","scale":{"domain":[0,50],"nice":false}},"y":{"datum":0.893,"type":"quantitative","scale":{"domain":[0,1],"nice":false},"axis":null}}},
 {"data":{"values":[{}]},"mark":{"type":"text","text":["d","d"],"fontStyle":"italic","fontSize":25,"lineHeight":42,"align":"left","baseline":"alphabetic","dx":13,"dy":17},"encoding":{"x":{"datum":11.2,"type":"quantitative","scale":{"domain":[0,50],"nice":false}},"y":{"datum":0.893,"type":"quantitative","scale":{"domain":[0,1],"nice":false},"axis":null}}},
 {"data":{"values":[{}]},"mark":{"type":"text","text":["max,I","max"],"fontSize":25,"lineHeight":42,"align":"left","baseline":"alphabetic","dx":25.5,"dy":17},"encoding":{"x":{"datum":11.2,"type":"quantitative","scale":{"domain":[0,50],"nice":false}},"y":{"datum":0.893,"type":"quantitative","scale":{"domain":[0,1],"nice":false},"axis":null}}},
 {"data":{"values":[{}]},"mark":{"type":"text","text":"′","fontSize":25,"align":"left","baseline":"alphabetic","dx":13.5,"dy":14},"encoding":{"x":{"datum":11.2,"type":"quantitative","scale":{"domain":[0,50],"nice":false}},"y":{"datum":0.573,"type":"quantitative","scale":{"domain":[0,1],"nice":false},"axis":null}}},
 {"data":{"values":[{}]},"mark":{"type":"text","text":"d","fontStyle":"italic","fontSize":25,"align":"left","baseline":"alphabetic","dx":19,"dy":17},"encoding":{"x":{"datum":11.2,"type":"quantitative","scale":{"domain":[0,50],"nice":false}},"y":{"datum":0.573,"type":"quantitative","scale":{"domain":[0,1],"nice":false},"axis":null}}},
 {"data":{"values":[{}]},"mark":{"type":"text","text":"max","fontSize":25,"align":"left","baseline":"alphabetic","dx":31.5,"dy":17},"encoding":{"x":{"datum":11.2,"type":"quantitative","scale":{"domain":[0,50],"nice":false}},"y":{"datum":0.573,"type":"quantitative","scale":{"domain":[0,1],"nice":false},"axis":null}}},
 {"data":{"values":[{}]},"mark":{"type":"text","text":"ρ","angle":270,"fontStyle":"italic","fontSize":27,"align":"left","baseline":"alphabetic","dx":-66,"dy":0},"encoding":{"x":{"datum":-9.13,"type":"quantitative","scale":{"domain":[0,50],"nice":false}},"y":{"datum":0.5,"type":"quantitative","scale":{"domain":[0,1],"nice":false},"axis":null}}},
 {"data":{"values":[{}]},"mark":{"type":"text","text":"d","angle":270,"fontStyle":"italic","fontSize":25,"align":"left","baseline":"alphabetic","dx":-53,"dy":6},"encoding":{"x":{"datum":-9.13,"type":"quantitative","scale":{"domain":[0,50],"nice":false}},"y":{"datum":0.5,"type":"quantitative","scale":{"domain":[0,1],"nice":false},"axis":null}}},
 {"data":{"values":[{}]},"mark":{"type":"text","text":"max","angle":270,"fontSize":25,"align":"left","baseline":"alphabetic","dx":-40.5,"dy":6},"encoding":{"x":{"datum":-9.13,"type":"quantitative","scale":{"domain":[0,50],"nice":false}},"y":{"datum":0.5,"type":"quantitative","scale":{"domain":[0,1],"nice":false},"axis":null}}},
 {"data":{"values":[{}]},"mark":{"type":"text","text":"[t/m","angle":270,"fontSize":25,"align":"left","baseline":"alphabetic","dx":8.5,"dy":0},"encoding":{"x":{"datum":-9.13,"type":"quantitative","scale":{"domain":[0,50],"nice":false}},"y":{"datum":0.5,"type":"quantitative","scale":{"domain":[0,1],"nice":false},"axis":null}}},
 {"data":{"values":[{}]},"mark":{"type":"text","text":"3","angle":270,"fontSize":16,"align":"left","baseline":"alphabetic","dx":50.5,"dy":-10},"encoding":{"x":{"datum":-9.13,"type":"quantitative","scale":{"domain":[0,50],"nice":false}},"y":{"datum":0.5,"type":"quantitative","scale":{"domain":[0,1],"nice":false},"axis":null}}},
 {"data":{"values":[{}]},"mark":{"type":"text","text":"]","angle":270,"fontSize":25,"align":"left","baseline":"alphabetic","dx":58.5,"dy":0},"encoding":{"x":{"datum":-9.13,"type":"quantitative","scale":{"domain":[0,50],"nice":false}},"y":{"datum":0.5,"type":"quantitative","scale":{"domain":[0,1],"nice":false},"axis":null}}},
 {"data":{"values":[{}]},"mark":{"type":"text","text":["Silty clay 2","with large grain gravel"],"fontSize":25,"lineHeight":27.7,"align":"left","baseline":"alphabetic"},"encoding":{"x":{"datum":0.8,"type":"quantitative","scale":{"domain":[0,50],"nice":false}},"y":{"datum":0.145,"type":"quantitative","scale":{"domain":[0,1],"nice":false},"axis":null}}}
]},
{"width":367,"height":262,"resolve":{"scale":{"y":"independent"}},"layer":[
 {"data":{"values":[{}]},"mark":{"type":"rect","fill":"white"},"encoding":{"x":{"datum":0.2,"type":"quantitative","scale":{"domain":[0,50],"nice":false}},"x2":{"datum":19},"y":{"datum":0.7,"type":"quantitative","scale":{"domain":[0,1],"nice":false},"axis":null},"y2":{"datum":0.996}}},
 {"data":{"name":"d"},"transform":[{"filter":"datum.p=='R3'"}],"mark":{"type":"line","color":"black","strokeWidth":1.2},"encoding":{"x":{"field":"x","type":"quantitative","scale":{"domain":[0,50],"nice":false},"axis":{"values":[0,10,20,30,40,50],"title":"gravel content\u00a0\u00a0[%]","labelPadding":16,"titlePadding":10,"grid":true}},"y":{"field":"y","type":"quantitative","scale":{"domain":[10,22],"nice":false,"zero":false},"axis":{"values":[10,12,14,16,18,20,22],"format":"d","title":null,"labelPadding":13,"grid":true}},"detail":{"field":"s"}}},
 {"data":{"name":"d"},"transform":[{"filter":"datum.p=='R3' && datum.s=='m'"}],"mark":{"type":"point","shape":"circle","filled":true,"fill":"black","stroke":"black","size":45,"opacity":1},"encoding":{"x":{"field":"x","type":"quantitative","scale":{"domain":[0,50],"nice":false}},"y":{"field":"y","type":"quantitative","scale":{"domain":[10,22],"nice":false,"zero":false},"axis":null}}},
 {"data":{"name":"d"},"transform":[{"filter":"datum.p=='R3' && datum.s=='p'"}],"mark":{"type":"point","shape":"circle","filled":true,"fill":"white","stroke":"black","strokeWidth":1,"size":45,"opacity":1},"encoding":{"x":{"field":"x","type":"quantitative","scale":{"domain":[0,50],"nice":false}},"y":{"field":"y","type":"quantitative","scale":{"domain":[10,22],"nice":false,"zero":false},"axis":null}}},
 {"data":{"values":[{}]},"mark":{"type":"rule","color":"black","strokeWidth":1.2},"encoding":{"x":{"datum":1.36,"type":"quantitative","scale":{"domain":[0,50],"nice":false}},"x2":{"datum":9.26},"y":{"datum":0.901,"type":"quantitative","scale":{"domain":[0,1],"nice":false},"axis":null}}},
 {"data":{"values":[{}]},"mark":{"type":"rule","color":"black","strokeWidth":1.2},"encoding":{"x":{"datum":1.36,"type":"quantitative","scale":{"domain":[0,50],"nice":false}},"x2":{"datum":9.26},"y":{"datum":0.767,"type":"quantitative","scale":{"domain":[0,1],"nice":false},"axis":null}}},
 {"data":{"values":[{}]},"mark":{"type":"point","shape":"circle","filled":true,"fill":"black","stroke":"black","size":45,"opacity":1},"encoding":{"x":{"datum":5.45,"type":"quantitative","scale":{"domain":[0,50],"nice":false}},"y":{"datum":0.901,"type":"quantitative","scale":{"domain":[0,1],"nice":false},"axis":null}}},
 {"data":{"values":[{}]},"mark":{"type":"point","shape":"circle","filled":true,"fill":"white","stroke":"black","strokeWidth":1,"size":45,"opacity":1},"encoding":{"x":{"datum":5.45,"type":"quantitative","scale":{"domain":[0,50],"nice":false}},"y":{"datum":0.767,"type":"quantitative","scale":{"domain":[0,1],"nice":false},"axis":null}}},
 {"data":{"values":[{}]},"mark":{"type":"text","text":["w","w"],"fontStyle":"italic","fontSize":21,"lineHeight":35,"align":"left","baseline":"alphabetic","dy":3.5},"encoding":{"x":{"datum":11.04,"type":"quantitative","scale":{"domain":[0,50],"nice":false}},"y":{"datum":0.901,"type":"quantitative","scale":{"domain":[0,1],"nice":false},"axis":null}}},
 {"data":{"values":[{}]},"mark":{"type":"text","text":"opt","fontSize":25,"align":"left","baseline":"alphabetic","dx":15,"dy":12},"encoding":{"x":{"datum":11.04,"type":"quantitative","scale":{"domain":[0,50],"nice":false}},"y":{"datum":0.901,"type":"quantitative","scale":{"domain":[0,1],"nice":false},"axis":null}}},
 {"data":{"values":[{}]},"mark":{"type":"text","text":"′","fontSize":22,"align":"left","baseline":"alphabetic","dx":13.5,"dy":8},"encoding":{"x":{"datum":11.04,"type":"quantitative","scale":{"domain":[0,50],"nice":false}},"y":{"datum":0.767,"type":"quantitative","scale":{"domain":[0,1],"nice":false},"axis":null}}},
 {"data":{"values":[{}]},"mark":{"type":"text","text":"opt","fontSize":25,"align":"left","baseline":"alphabetic","dx":19,"dy":12},"encoding":{"x":{"datum":11.04,"type":"quantitative","scale":{"domain":[0,50],"nice":false}},"y":{"datum":0.767,"type":"quantitative","scale":{"domain":[0,1],"nice":false},"axis":null}}},
 {"data":{"values":[{}]},"mark":{"type":"text","text":"w","angle":270,"fontStyle":"italic","fontSize":25,"align":"left","baseline":"alphabetic","dx":-47.5,"dy":0},"encoding":{"x":{"datum":-7.7,"type":"quantitative","scale":{"domain":[0,50],"nice":false}},"y":{"datum":0.5,"type":"quantitative","scale":{"domain":[0,1],"nice":false},"axis":null}}},
 {"data":{"values":[{}]},"mark":{"type":"text","text":"opt","angle":270,"fontSize":25,"align":"left","baseline":"alphabetic","dx":-30,"dy":6},"encoding":{"x":{"datum":-7.7,"type":"quantitative","scale":{"domain":[0,50],"nice":false}},"y":{"datum":0.5,"type":"quantitative","scale":{"domain":[0,1],"nice":false},"axis":null}}},
 {"data":{"values":[{}]},"mark":{"type":"text","text":"[%]","angle":270,"fontSize":25,"align":"left","baseline":"alphabetic","dx":9,"dy":0},"encoding":{"x":{"datum":-7.7,"type":"quantitative","scale":{"domain":[0,50],"nice":false}},"y":{"datum":0.5,"type":"quantitative","scale":{"domain":[0,1],"nice":false},"axis":null}}},
 {"data":{"values":[{}]},"mark":{"type":"text","text":["Silty clay 2","with large grain gravel"],"fontSize":25,"lineHeight":27.7,"align":"left","baseline":"alphabetic"},"encoding":{"x":{"datum":0.55,"type":"quantitative","scale":{"domain":[0,50],"nice":false}},"y":{"datum":0.145,"type":"quantitative","scale":{"domain":[0,1],"nice":false},"axis":null}}}
]},
{"width":367,"height":262,"resolve":{"scale":{"y":"independent"}},"layer":[
 {"data":{"values":[{}]},"mark":{"type":"rect","fill":"white"},"encoding":{"x":{"datum":0.2,"type":"quantitative","scale":{"domain":[0,50],"nice":false}},"x2":{"datum":24},"y":{"datum":0.5,"type":"quantitative","scale":{"domain":[0,1],"nice":false},"axis":null},"y2":{"datum":0.996}}},
 {"data":{"name":"d"},"transform":[{"filter":"datum.p=='L4'"}],"mark":{"type":"line","color":"black","strokeWidth":1.2},"encoding":{"x":{"field":"x","type":"quantitative","scale":{"domain":[0,50],"nice":false},"axis":{"values":[0,10,20,30,40,50],"title":"gravel content\u00a0\u00a0[%]","labelPadding":16,"titlePadding":10,"grid":true}},"y":{"field":"y","type":"quantitative","scale":{"domain":[1.7,2.4],"nice":false,"zero":false},"axis":{"values":[1.8,2.0,2.2,2.4],"format":".1f","title":null,"labelPadding":12,"grid":true}},"detail":{"field":"s"}}},
 {"data":{"name":"d"},"transform":[{"filter":"datum.p=='L4' && datum.s=='m'"}],"mark":{"type":"point","shape":"circle","filled":true,"fill":"black","stroke":"black","size":45,"opacity":1},"encoding":{"x":{"field":"x","type":"quantitative","scale":{"domain":[0,50],"nice":false}},"y":{"field":"y","type":"quantitative","scale":{"domain":[1.7,2.4],"nice":false,"zero":false},"axis":null}}},
 {"data":{"name":"d"},"transform":[{"filter":"datum.p=='L4' && datum.s=='p'"}],"mark":{"type":"point","shape":"circle","filled":true,"fill":"white","stroke":"black","strokeWidth":1,"size":45,"opacity":1},"encoding":{"x":{"field":"x","type":"quantitative","scale":{"domain":[0,50],"nice":false}},"y":{"field":"y","type":"quantitative","scale":{"domain":[1.7,2.4],"nice":false,"zero":false},"axis":null}}},
 {"data":{"values":[{}]},"mark":{"type":"rule","color":"black","strokeWidth":1.2},"encoding":{"x":{"datum":1.4,"type":"quantitative","scale":{"domain":[0,50],"nice":false}},"x2":{"datum":9.2},"y":{"datum":0.893,"type":"quantitative","scale":{"domain":[0,1],"nice":false},"axis":null}}},
 {"data":{"values":[{}]},"mark":{"type":"rule","color":"black","strokeWidth":1.2},"encoding":{"x":{"datum":1.4,"type":"quantitative","scale":{"domain":[0,50],"nice":false}},"x2":{"datum":9.2},"y":{"datum":0.733,"type":"quantitative","scale":{"domain":[0,1],"nice":false},"axis":null}}},
 {"data":{"values":[{}]},"mark":{"type":"rule","color":"black","strokeWidth":1.2},"encoding":{"x":{"datum":1.4,"type":"quantitative","scale":{"domain":[0,50],"nice":false}},"x2":{"datum":9.2},"y":{"datum":0.573,"type":"quantitative","scale":{"domain":[0,1],"nice":false},"axis":null}}},
 {"data":{"values":[{}]},"mark":{"type":"point","shape":"circle","filled":true,"fill":"black","stroke":"black","size":45,"opacity":1},"encoding":{"x":{"datum":5.5,"type":"quantitative","scale":{"domain":[0,50],"nice":false}},"y":{"datum":0.733,"type":"quantitative","scale":{"domain":[0,1],"nice":false},"axis":null}}},
 {"data":{"values":[{}]},"mark":{"type":"point","shape":"circle","filled":true,"fill":"white","stroke":"black","strokeWidth":1,"size":45,"opacity":1},"encoding":{"x":{"datum":5.5,"type":"quantitative","scale":{"domain":[0,50],"nice":false}},"y":{"datum":0.573,"type":"quantitative","scale":{"domain":[0,1],"nice":false},"axis":null}}},
 {"data":{"values":[{}]},"mark":{"type":"text","text":["ρ","ρ","ρ"],"fontStyle":"italic","fontSize":28,"lineHeight":42,"align":"left","baseline":"alphabetic","dy":12},"encoding":{"x":{"datum":11.2,"type":"quantitative","scale":{"domain":[0,50],"nice":false}},"y":{"datum":0.893,"type":"quantitative","scale":{"domain":[0,1],"nice":false},"axis":null}}},
 {"data":{"values":[{}]},"mark":{"type":"text","text":["d","d"],"fontStyle":"italic","fontSize":25,"lineHeight":42,"align":"left","baseline":"alphabetic","dx":13,"dy":17},"encoding":{"x":{"datum":11.2,"type":"quantitative","scale":{"domain":[0,50],"nice":false}},"y":{"datum":0.893,"type":"quantitative","scale":{"domain":[0,1],"nice":false},"axis":null}}},
 {"data":{"values":[{}]},"mark":{"type":"text","text":["max,I","max"],"fontSize":25,"lineHeight":42,"align":"left","baseline":"alphabetic","dx":25.5,"dy":17},"encoding":{"x":{"datum":11.2,"type":"quantitative","scale":{"domain":[0,50],"nice":false}},"y":{"datum":0.893,"type":"quantitative","scale":{"domain":[0,1],"nice":false},"axis":null}}},
 {"data":{"values":[{}]},"mark":{"type":"text","text":"′","fontSize":25,"align":"left","baseline":"alphabetic","dx":13.5,"dy":14},"encoding":{"x":{"datum":11.2,"type":"quantitative","scale":{"domain":[0,50],"nice":false}},"y":{"datum":0.573,"type":"quantitative","scale":{"domain":[0,1],"nice":false},"axis":null}}},
 {"data":{"values":[{}]},"mark":{"type":"text","text":"d","fontStyle":"italic","fontSize":25,"align":"left","baseline":"alphabetic","dx":19,"dy":17},"encoding":{"x":{"datum":11.2,"type":"quantitative","scale":{"domain":[0,50],"nice":false}},"y":{"datum":0.573,"type":"quantitative","scale":{"domain":[0,1],"nice":false},"axis":null}}},
 {"data":{"values":[{}]},"mark":{"type":"text","text":"max","fontSize":25,"align":"left","baseline":"alphabetic","dx":31.5,"dy":17},"encoding":{"x":{"datum":11.2,"type":"quantitative","scale":{"domain":[0,50],"nice":false}},"y":{"datum":0.573,"type":"quantitative","scale":{"domain":[0,1],"nice":false},"axis":null}}},
 {"data":{"values":[{}]},"mark":{"type":"text","text":"ρ","angle":270,"fontStyle":"italic","fontSize":27,"align":"left","baseline":"alphabetic","dx":-66,"dy":0},"encoding":{"x":{"datum":-9.13,"type":"quantitative","scale":{"domain":[0,50],"nice":false}},"y":{"datum":0.5,"type":"quantitative","scale":{"domain":[0,1],"nice":false},"axis":null}}},
 {"data":{"values":[{}]},"mark":{"type":"text","text":"d","angle":270,"fontStyle":"italic","fontSize":25,"align":"left","baseline":"alphabetic","dx":-53,"dy":6},"encoding":{"x":{"datum":-9.13,"type":"quantitative","scale":{"domain":[0,50],"nice":false}},"y":{"datum":0.5,"type":"quantitative","scale":{"domain":[0,1],"nice":false},"axis":null}}},
 {"data":{"values":[{}]},"mark":{"type":"text","text":"max","angle":270,"fontSize":25,"align":"left","baseline":"alphabetic","dx":-40.5,"dy":6},"encoding":{"x":{"datum":-9.13,"type":"quantitative","scale":{"domain":[0,50],"nice":false}},"y":{"datum":0.5,"type":"quantitative","scale":{"domain":[0,1],"nice":false},"axis":null}}},
 {"data":{"values":[{}]},"mark":{"type":"text","text":"[t/m","angle":270,"fontSize":25,"align":"left","baseline":"alphabetic","dx":8.5,"dy":0},"encoding":{"x":{"datum":-9.13,"type":"quantitative","scale":{"domain":[0,50],"nice":false}},"y":{"datum":0.5,"type":"quantitative","scale":{"domain":[0,1],"nice":false},"axis":null}}},
 {"data":{"values":[{}]},"mark":{"type":"text","text":"3","angle":270,"fontSize":16,"align":"left","baseline":"alphabetic","dx":50.5,"dy":-10},"encoding":{"x":{"datum":-9.13,"type":"quantitative","scale":{"domain":[0,50],"nice":false}},"y":{"datum":0.5,"type":"quantitative","scale":{"domain":[0,1],"nice":false},"axis":null}}},
 {"data":{"values":[{}]},"mark":{"type":"text","text":"]","angle":270,"fontSize":25,"align":"left","baseline":"alphabetic","dx":58.5,"dy":0},"encoding":{"x":{"datum":-9.13,"type":"quantitative","scale":{"domain":[0,50],"nice":false}},"y":{"datum":0.5,"type":"quantitative","scale":{"domain":[0,1],"nice":false},"axis":null}}},
 {"data":{"values":[{}]},"mark":{"type":"text","text":["Silty clay 3","with large grain gravel"],"fontSize":25,"lineHeight":27.7,"align":"left","baseline":"alphabetic"},"encoding":{"x":{"datum":0.8,"type":"quantitative","scale":{"domain":[0,50],"nice":false}},"y":{"datum":0.145,"type":"quantitative","scale":{"domain":[0,1],"nice":false},"axis":null}}}
]},
{"width":367,"height":262,"resolve":{"scale":{"y":"independent"}},"layer":[
 {"data":{"values":[{}]},"mark":{"type":"rect","fill":"white"},"encoding":{"x":{"datum":0.2,"type":"quantitative","scale":{"domain":[0,50],"nice":false}},"x2":{"datum":19},"y":{"datum":0.7,"type":"quantitative","scale":{"domain":[0,1],"nice":false},"axis":null},"y2":{"datum":0.996}}},
 {"data":{"name":"d"},"transform":[{"filter":"datum.p=='R4'"}],"mark":{"type":"line","color":"black","strokeWidth":1.2},"encoding":{"x":{"field":"x","type":"quantitative","scale":{"domain":[0,50],"nice":false},"axis":{"values":[0,10,20,30,40,50],"title":"gravel content\u00a0\u00a0[%]","labelPadding":16,"titlePadding":10,"grid":true}},"y":{"field":"y","type":"quantitative","scale":{"domain":[8,18],"nice":false,"zero":false},"axis":{"values":[8,10,12,14,16,18],"format":"d","title":null,"labelPadding":13,"grid":true}},"detail":{"field":"s"}}},
 {"data":{"name":"d"},"transform":[{"filter":"datum.p=='R4' && datum.s=='m'"}],"mark":{"type":"point","shape":"circle","filled":true,"fill":"black","stroke":"black","size":45,"opacity":1},"encoding":{"x":{"field":"x","type":"quantitative","scale":{"domain":[0,50],"nice":false}},"y":{"field":"y","type":"quantitative","scale":{"domain":[8,18],"nice":false,"zero":false},"axis":null}}},
 {"data":{"name":"d"},"transform":[{"filter":"datum.p=='R4' && datum.s=='p'"}],"mark":{"type":"point","shape":"circle","filled":true,"fill":"white","stroke":"black","strokeWidth":1,"size":45,"opacity":1},"encoding":{"x":{"field":"x","type":"quantitative","scale":{"domain":[0,50],"nice":false}},"y":{"field":"y","type":"quantitative","scale":{"domain":[8,18],"nice":false,"zero":false},"axis":null}}},
 {"data":{"values":[{}]},"mark":{"type":"rule","color":"black","strokeWidth":1.2},"encoding":{"x":{"datum":1.36,"type":"quantitative","scale":{"domain":[0,50],"nice":false}},"x2":{"datum":9.26},"y":{"datum":0.901,"type":"quantitative","scale":{"domain":[0,1],"nice":false},"axis":null}}},
 {"data":{"values":[{}]},"mark":{"type":"rule","color":"black","strokeWidth":1.2},"encoding":{"x":{"datum":1.36,"type":"quantitative","scale":{"domain":[0,50],"nice":false}},"x2":{"datum":9.26},"y":{"datum":0.767,"type":"quantitative","scale":{"domain":[0,1],"nice":false},"axis":null}}},
 {"data":{"values":[{}]},"mark":{"type":"point","shape":"circle","filled":true,"fill":"black","stroke":"black","size":45,"opacity":1},"encoding":{"x":{"datum":5.45,"type":"quantitative","scale":{"domain":[0,50],"nice":false}},"y":{"datum":0.901,"type":"quantitative","scale":{"domain":[0,1],"nice":false},"axis":null}}},
 {"data":{"values":[{}]},"mark":{"type":"point","shape":"circle","filled":true,"fill":"white","stroke":"black","strokeWidth":1,"size":45,"opacity":1},"encoding":{"x":{"datum":5.45,"type":"quantitative","scale":{"domain":[0,50],"nice":false}},"y":{"datum":0.767,"type":"quantitative","scale":{"domain":[0,1],"nice":false},"axis":null}}},
 {"data":{"values":[{}]},"mark":{"type":"text","text":["w","w"],"fontStyle":"italic","fontSize":21,"lineHeight":35,"align":"left","baseline":"alphabetic","dy":3.5},"encoding":{"x":{"datum":11.04,"type":"quantitative","scale":{"domain":[0,50],"nice":false}},"y":{"datum":0.901,"type":"quantitative","scale":{"domain":[0,1],"nice":false},"axis":null}}},
 {"data":{"values":[{}]},"mark":{"type":"text","text":"opt","fontSize":25,"align":"left","baseline":"alphabetic","dx":15,"dy":12},"encoding":{"x":{"datum":11.04,"type":"quantitative","scale":{"domain":[0,50],"nice":false}},"y":{"datum":0.901,"type":"quantitative","scale":{"domain":[0,1],"nice":false},"axis":null}}},
 {"data":{"values":[{}]},"mark":{"type":"text","text":"′","fontSize":22,"align":"left","baseline":"alphabetic","dx":13.5,"dy":8},"encoding":{"x":{"datum":11.04,"type":"quantitative","scale":{"domain":[0,50],"nice":false}},"y":{"datum":0.767,"type":"quantitative","scale":{"domain":[0,1],"nice":false},"axis":null}}},
 {"data":{"values":[{}]},"mark":{"type":"text","text":"opt","fontSize":25,"align":"left","baseline":"alphabetic","dx":19,"dy":12},"encoding":{"x":{"datum":11.04,"type":"quantitative","scale":{"domain":[0,50],"nice":false}},"y":{"datum":0.767,"type":"quantitative","scale":{"domain":[0,1],"nice":false},"axis":null}}},
 {"data":{"values":[{}]},"mark":{"type":"text","text":"w","angle":270,"fontStyle":"italic","fontSize":25,"align":"left","baseline":"alphabetic","dx":-47.5,"dy":0},"encoding":{"x":{"datum":-7.7,"type":"quantitative","scale":{"domain":[0,50],"nice":false}},"y":{"datum":0.5,"type":"quantitative","scale":{"domain":[0,1],"nice":false},"axis":null}}},
 {"data":{"values":[{}]},"mark":{"type":"text","text":"opt","angle":270,"fontSize":25,"align":"left","baseline":"alphabetic","dx":-30,"dy":6},"encoding":{"x":{"datum":-7.7,"type":"quantitative","scale":{"domain":[0,50],"nice":false}},"y":{"datum":0.5,"type":"quantitative","scale":{"domain":[0,1],"nice":false},"axis":null}}},
 {"data":{"values":[{}]},"mark":{"type":"text","text":"[%]","angle":270,"fontSize":25,"align":"left","baseline":"alphabetic","dx":9,"dy":0},"encoding":{"x":{"datum":-7.7,"type":"quantitative","scale":{"domain":[0,50],"nice":false}},"y":{"datum":0.5,"type":"quantitative","scale":{"domain":[0,1],"nice":false},"axis":null}}},
 {"data":{"values":[{}]},"mark":{"type":"text","text":["Silty clay 3","with large grain gravel"],"fontSize":25,"lineHeight":27.7,"align":"left","baseline":"alphabetic"},"encoding":{"x":{"datum":0.55,"type":"quantitative","scale":{"domain":[0,50],"nice":false}},"y":{"datum":0.145,"type":"quantitative","scale":{"domain":[0,1],"nice":false},"axis":null}}}
]},
{"width":367,"height":262,"resolve":{"scale":{"y":"independent"}},"layer":[
 {"data":{"values":[{}]},"mark":{"type":"rect","fill":"white"},"encoding":{"x":{"datum":0.2,"type":"quantitative","scale":{"domain":[0,50],"nice":false}},"x2":{"datum":24},"y":{"datum":0.5,"type":"quantitative","scale":{"domain":[0,1],"nice":false},"axis":null},"y2":{"datum":0.996}}},
 {"data":{"name":"d"},"transform":[{"filter":"datum.p=='L5'"}],"mark":{"type":"line","color":"black","strokeWidth":1.2},"encoding":{"x":{"field":"x","type":"quantitative","scale":{"domain":[0,50],"nice":false},"axis":{"values":[0,10,20,30,40,50],"title":"gravel content\u00a0\u00a0[%]","labelPadding":16,"titlePadding":10,"grid":true}},"y":{"field":"y","type":"quantitative","scale":{"domain":[1.2,2.3],"nice":false,"zero":false},"axis":{"values":[1.2,1.4,1.6,1.8,2.0,2.2],"format":".1f","title":null,"labelPadding":12,"grid":true}},"detail":{"field":"s"}}},
 {"data":{"name":"d"},"transform":[{"filter":"datum.p=='L5' && datum.s=='m'"}],"mark":{"type":"point","shape":"circle","filled":true,"fill":"black","stroke":"black","size":45,"opacity":1},"encoding":{"x":{"field":"x","type":"quantitative","scale":{"domain":[0,50],"nice":false}},"y":{"field":"y","type":"quantitative","scale":{"domain":[1.2,2.3],"nice":false,"zero":false},"axis":null}}},
 {"data":{"name":"d"},"transform":[{"filter":"datum.p=='L5' && datum.s=='p'"}],"mark":{"type":"point","shape":"circle","filled":true,"fill":"white","stroke":"black","strokeWidth":1,"size":45,"opacity":1},"encoding":{"x":{"field":"x","type":"quantitative","scale":{"domain":[0,50],"nice":false}},"y":{"field":"y","type":"quantitative","scale":{"domain":[1.2,2.3],"nice":false,"zero":false},"axis":null}}},
 {"data":{"values":[{}]},"mark":{"type":"rule","color":"black","strokeWidth":1.2},"encoding":{"x":{"datum":1.4,"type":"quantitative","scale":{"domain":[0,50],"nice":false}},"x2":{"datum":9.2},"y":{"datum":0.885,"type":"quantitative","scale":{"domain":[0,1],"nice":false},"axis":null}}},
 {"data":{"values":[{}]},"mark":{"type":"rule","color":"black","strokeWidth":1.2},"encoding":{"x":{"datum":1.4,"type":"quantitative","scale":{"domain":[0,50],"nice":false}},"x2":{"datum":9.2},"y":{"datum":0.725,"type":"quantitative","scale":{"domain":[0,1],"nice":false},"axis":null}}},
 {"data":{"values":[{}]},"mark":{"type":"rule","color":"black","strokeWidth":1.2},"encoding":{"x":{"datum":1.4,"type":"quantitative","scale":{"domain":[0,50],"nice":false}},"x2":{"datum":9.2},"y":{"datum":0.565,"type":"quantitative","scale":{"domain":[0,1],"nice":false},"axis":null}}},
 {"data":{"values":[{}]},"mark":{"type":"point","shape":"circle","filled":true,"fill":"black","stroke":"black","size":45,"opacity":1},"encoding":{"x":{"datum":5.5,"type":"quantitative","scale":{"domain":[0,50],"nice":false}},"y":{"datum":0.725,"type":"quantitative","scale":{"domain":[0,1],"nice":false},"axis":null}}},
 {"data":{"values":[{}]},"mark":{"type":"point","shape":"circle","filled":true,"fill":"white","stroke":"black","strokeWidth":1,"size":45,"opacity":1},"encoding":{"x":{"datum":5.5,"type":"quantitative","scale":{"domain":[0,50],"nice":false}},"y":{"datum":0.565,"type":"quantitative","scale":{"domain":[0,1],"nice":false},"axis":null}}},
 {"data":{"values":[{}]},"mark":{"type":"text","text":["ρ","ρ","ρ"],"fontStyle":"italic","fontSize":28,"lineHeight":42,"align":"left","baseline":"alphabetic","dy":12},"encoding":{"x":{"datum":11.2,"type":"quantitative","scale":{"domain":[0,50],"nice":false}},"y":{"datum":0.885,"type":"quantitative","scale":{"domain":[0,1],"nice":false},"axis":null}}},
 {"data":{"values":[{}]},"mark":{"type":"text","text":["d","d"],"fontStyle":"italic","fontSize":25,"lineHeight":42,"align":"left","baseline":"alphabetic","dx":13,"dy":17},"encoding":{"x":{"datum":11.2,"type":"quantitative","scale":{"domain":[0,50],"nice":false}},"y":{"datum":0.885,"type":"quantitative","scale":{"domain":[0,1],"nice":false},"axis":null}}},
 {"data":{"values":[{}]},"mark":{"type":"text","text":["max,I","max"],"fontSize":25,"lineHeight":42,"align":"left","baseline":"alphabetic","dx":25.5,"dy":17},"encoding":{"x":{"datum":11.2,"type":"quantitative","scale":{"domain":[0,50],"nice":false}},"y":{"datum":0.885,"type":"quantitative","scale":{"domain":[0,1],"nice":false},"axis":null}}},
 {"data":{"values":[{}]},"mark":{"type":"text","text":"′","fontSize":25,"align":"left","baseline":"alphabetic","dx":13.5,"dy":14},"encoding":{"x":{"datum":11.2,"type":"quantitative","scale":{"domain":[0,50],"nice":false}},"y":{"datum":0.565,"type":"quantitative","scale":{"domain":[0,1],"nice":false},"axis":null}}},
 {"data":{"values":[{}]},"mark":{"type":"text","text":"d","fontStyle":"italic","fontSize":25,"align":"left","baseline":"alphabetic","dx":19,"dy":17},"encoding":{"x":{"datum":11.2,"type":"quantitative","scale":{"domain":[0,50],"nice":false}},"y":{"datum":0.565,"type":"quantitative","scale":{"domain":[0,1],"nice":false},"axis":null}}},
 {"data":{"values":[{}]},"mark":{"type":"text","text":"max","fontSize":25,"align":"left","baseline":"alphabetic","dx":31.5,"dy":17},"encoding":{"x":{"datum":11.2,"type":"quantitative","scale":{"domain":[0,50],"nice":false}},"y":{"datum":0.565,"type":"quantitative","scale":{"domain":[0,1],"nice":false},"axis":null}}},
 {"data":{"values":[{}]},"mark":{"type":"text","text":"ρ","angle":270,"fontStyle":"italic","fontSize":27,"align":"left","baseline":"alphabetic","dx":-66,"dy":0},"encoding":{"x":{"datum":-9.13,"type":"quantitative","scale":{"domain":[0,50],"nice":false}},"y":{"datum":0.5,"type":"quantitative","scale":{"domain":[0,1],"nice":false},"axis":null}}},
 {"data":{"values":[{}]},"mark":{"type":"text","text":"d","angle":270,"fontStyle":"italic","fontSize":25,"align":"left","baseline":"alphabetic","dx":-53,"dy":6},"encoding":{"x":{"datum":-9.13,"type":"quantitative","scale":{"domain":[0,50],"nice":false}},"y":{"datum":0.5,"type":"quantitative","scale":{"domain":[0,1],"nice":false},"axis":null}}},
 {"data":{"values":[{}]},"mark":{"type":"text","text":"max","angle":270,"fontSize":25,"align":"left","baseline":"alphabetic","dx":-40.5,"dy":6},"encoding":{"x":{"datum":-9.13,"type":"quantitative","scale":{"domain":[0,50],"nice":false}},"y":{"datum":0.5,"type":"quantitative","scale":{"domain":[0,1],"nice":false},"axis":null}}},
 {"data":{"values":[{}]},"mark":{"type":"text","text":"[t/m","angle":270,"fontSize":25,"align":"left","baseline":"alphabetic","dx":8.5,"dy":0},"encoding":{"x":{"datum":-9.13,"type":"quantitative","scale":{"domain":[0,50],"nice":false}},"y":{"datum":0.5,"type":"quantitative","scale":{"domain":[0,1],"nice":false},"axis":null}}},
 {"data":{"values":[{}]},"mark":{"type":"text","text":"3","angle":270,"fontSize":16,"align":"left","baseline":"alphabetic","dx":50.5,"dy":-10},"encoding":{"x":{"datum":-9.13,"type":"quantitative","scale":{"domain":[0,50],"nice":false}},"y":{"datum":0.5,"type":"quantitative","scale":{"domain":[0,1],"nice":false},"axis":null}}},
 {"data":{"values":[{}]},"mark":{"type":"text","text":"]","angle":270,"fontSize":25,"align":"left","baseline":"alphabetic","dx":58.5,"dy":0},"encoding":{"x":{"datum":-9.13,"type":"quantitative","scale":{"domain":[0,50],"nice":false}},"y":{"datum":0.5,"type":"quantitative","scale":{"domain":[0,1],"nice":false},"axis":null}}},
 {"data":{"values":[{}]},"mark":{"type":"text","text":["Red clay","with lage grain gravel"],"fontSize":25,"lineHeight":27.7,"align":"left","baseline":"alphabetic"},"encoding":{"x":{"datum":0.8,"type":"quantitative","scale":{"domain":[0,50],"nice":false}},"y":{"datum":0.145,"type":"quantitative","scale":{"domain":[0,1],"nice":false},"axis":null}}}
]},
{"width":367,"height":262,"resolve":{"scale":{"y":"independent"}},"layer":[
 {"data":{"values":[{}]},"mark":{"type":"rect","fill":"white"},"encoding":{"x":{"datum":0.2,"type":"quantitative","scale":{"domain":[0,50],"nice":false}},"x2":{"datum":19},"y":{"datum":0.7,"type":"quantitative","scale":{"domain":[0,1],"nice":false},"axis":null},"y2":{"datum":0.996}}},
 {"data":{"name":"d"},"transform":[{"filter":"datum.p=='R5'"}],"mark":{"type":"line","color":"black","strokeWidth":1.2},"encoding":{"x":{"field":"x","type":"quantitative","scale":{"domain":[0,50],"nice":false},"axis":{"values":[0,10,20,30,40,50],"title":"gravel content\u00a0\u00a0[%]","labelPadding":16,"titlePadding":10,"grid":true}},"y":{"field":"y","type":"quantitative","scale":{"domain":[11,35],"nice":false,"zero":false},"axis":{"values":[15,20,25,30,35],"format":"d","title":null,"labelPadding":13,"grid":true}},"detail":{"field":"s"}}},
 {"data":{"name":"d"},"transform":[{"filter":"datum.p=='R5' && datum.s=='m'"}],"mark":{"type":"point","shape":"circle","filled":true,"fill":"black","stroke":"black","size":45,"opacity":1},"encoding":{"x":{"field":"x","type":"quantitative","scale":{"domain":[0,50],"nice":false}},"y":{"field":"y","type":"quantitative","scale":{"domain":[11,35],"nice":false,"zero":false},"axis":null}}},
 {"data":{"name":"d"},"transform":[{"filter":"datum.p=='R5' && datum.s=='p'"}],"mark":{"type":"point","shape":"circle","filled":true,"fill":"white","stroke":"black","strokeWidth":1,"size":45,"opacity":1},"encoding":{"x":{"field":"x","type":"quantitative","scale":{"domain":[0,50],"nice":false}},"y":{"field":"y","type":"quantitative","scale":{"domain":[11,35],"nice":false,"zero":false},"axis":null}}},
 {"data":{"values":[{}]},"mark":{"type":"rule","color":"black","strokeWidth":1.2},"encoding":{"x":{"datum":1.36,"type":"quantitative","scale":{"domain":[0,50],"nice":false}},"x2":{"datum":9.26},"y":{"datum":0.901,"type":"quantitative","scale":{"domain":[0,1],"nice":false},"axis":null}}},
 {"data":{"values":[{}]},"mark":{"type":"rule","color":"black","strokeWidth":1.2},"encoding":{"x":{"datum":1.36,"type":"quantitative","scale":{"domain":[0,50],"nice":false}},"x2":{"datum":9.26},"y":{"datum":0.767,"type":"quantitative","scale":{"domain":[0,1],"nice":false},"axis":null}}},
 {"data":{"values":[{}]},"mark":{"type":"point","shape":"circle","filled":true,"fill":"black","stroke":"black","size":45,"opacity":1},"encoding":{"x":{"datum":5.45,"type":"quantitative","scale":{"domain":[0,50],"nice":false}},"y":{"datum":0.901,"type":"quantitative","scale":{"domain":[0,1],"nice":false},"axis":null}}},
 {"data":{"values":[{}]},"mark":{"type":"point","shape":"circle","filled":true,"fill":"white","stroke":"black","strokeWidth":1,"size":45,"opacity":1},"encoding":{"x":{"datum":5.45,"type":"quantitative","scale":{"domain":[0,50],"nice":false}},"y":{"datum":0.767,"type":"quantitative","scale":{"domain":[0,1],"nice":false},"axis":null}}},
 {"data":{"values":[{}]},"mark":{"type":"text","text":["w","w"],"fontStyle":"italic","fontSize":21,"lineHeight":35,"align":"left","baseline":"alphabetic","dy":3.5},"encoding":{"x":{"datum":11.04,"type":"quantitative","scale":{"domain":[0,50],"nice":false}},"y":{"datum":0.901,"type":"quantitative","scale":{"domain":[0,1],"nice":false},"axis":null}}},
 {"data":{"values":[{}]},"mark":{"type":"text","text":"opt","fontSize":25,"align":"left","baseline":"alphabetic","dx":15,"dy":12},"encoding":{"x":{"datum":11.04,"type":"quantitative","scale":{"domain":[0,50],"nice":false}},"y":{"datum":0.901,"type":"quantitative","scale":{"domain":[0,1],"nice":false},"axis":null}}},
 {"data":{"values":[{}]},"mark":{"type":"text","text":"′","fontSize":22,"align":"left","baseline":"alphabetic","dx":13.5,"dy":8},"encoding":{"x":{"datum":11.04,"type":"quantitative","scale":{"domain":[0,50],"nice":false}},"y":{"datum":0.767,"type":"quantitative","scale":{"domain":[0,1],"nice":false},"axis":null}}},
 {"data":{"values":[{}]},"mark":{"type":"text","text":"opt","fontSize":25,"align":"left","baseline":"alphabetic","dx":19,"dy":12},"encoding":{"x":{"datum":11.04,"type":"quantitative","scale":{"domain":[0,50],"nice":false}},"y":{"datum":0.767,"type":"quantitative","scale":{"domain":[0,1],"nice":false},"axis":null}}},
 {"data":{"values":[{}]},"mark":{"type":"text","text":"w","angle":270,"fontStyle":"italic","fontSize":25,"align":"left","baseline":"alphabetic","dx":-47.5,"dy":0},"encoding":{"x":{"datum":-7.7,"type":"quantitative","scale":{"domain":[0,50],"nice":false}},"y":{"datum":0.5,"type":"quantitative","scale":{"domain":[0,1],"nice":false},"axis":null}}},
 {"data":{"values":[{}]},"mark":{"type":"text","text":"opt","angle":270,"fontSize":25,"align":"left","baseline":"alphabetic","dx":-30,"dy":6},"encoding":{"x":{"datum":-7.7,"type":"quantitative","scale":{"domain":[0,50],"nice":false}},"y":{"datum":0.5,"type":"quantitative","scale":{"domain":[0,1],"nice":false},"axis":null}}},
 {"data":{"values":[{}]},"mark":{"type":"text","text":"[%]","angle":270,"fontSize":25,"align":"left","baseline":"alphabetic","dx":9,"dy":0},"encoding":{"x":{"datum":-7.7,"type":"quantitative","scale":{"domain":[0,50],"nice":false}},"y":{"datum":0.5,"type":"quantitative","scale":{"domain":[0,1],"nice":false},"axis":null}}},
 {"data":{"values":[{}]},"mark":{"type":"text","text":["Red clay","with lage grain gravel"],"fontSize":25,"lineHeight":27.7,"align":"left","baseline":"alphabetic"},"encoding":{"x":{"datum":0.55,"type":"quantitative","scale":{"domain":[0,50],"nice":false}},"y":{"datum":0.145,"type":"quantitative","scale":{"domain":[0,1],"nice":false},"axis":null}}}
]}
]
}
